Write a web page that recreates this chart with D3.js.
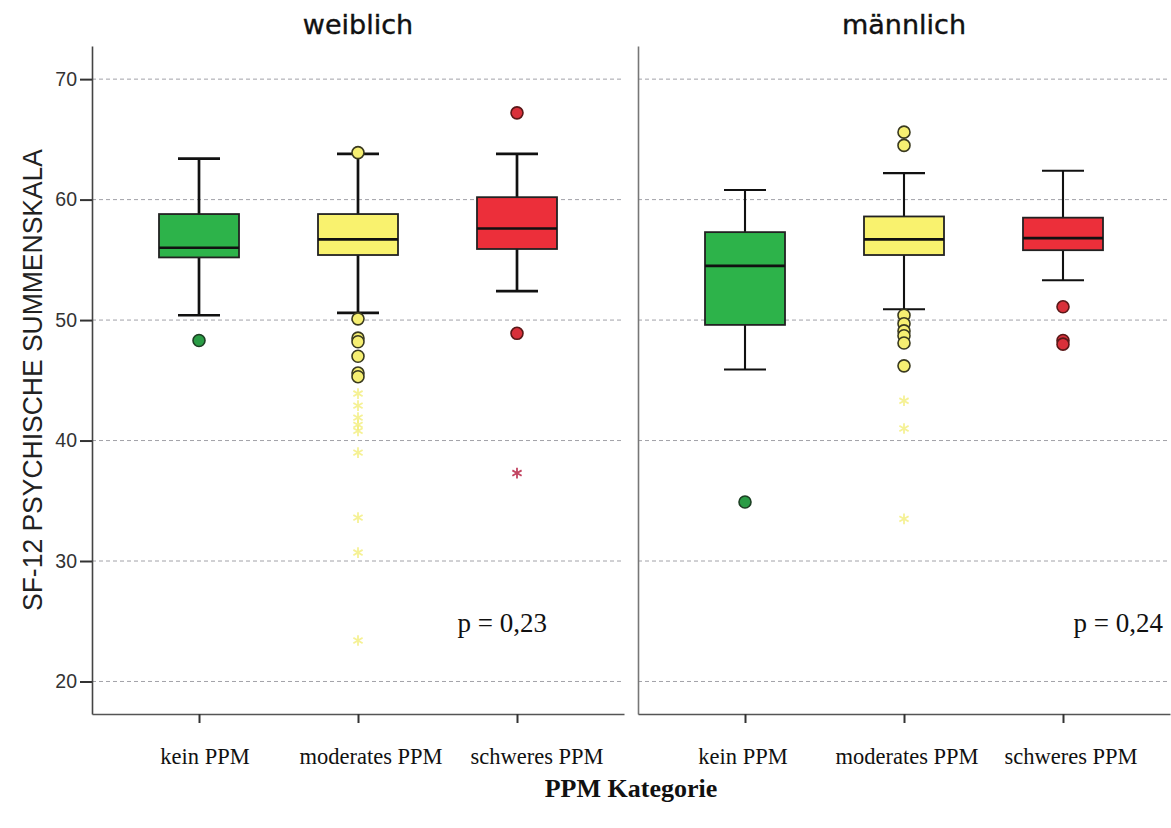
<!DOCTYPE html>
<html>
<head>
<meta charset="utf-8">
<script src="https://cdn.jsdelivr.net/npm/d3@7"></script>
<style>
  html, body { margin: 0; padding: 0; background: #fff; }
  svg { display: block; }
</style>
</head>
<body>
<svg id="chart" width="1171" height="828"></svg>
<script>
// ---------------- data ----------------
const panels = ["weiblich", "männlich"];
const categories = ["kein PPM", "moderates PPM", "schweres PPM"];
const yTicks = [20, 30, 40, 50, 60, 70];
// each row: [lower whisker, Q1, median, Q3, upper whisker]
const weiblichStats = [
  [50.4, 55.2, 56.0, 58.8, 63.4],
  [50.6, 55.4, 56.7, 58.8, 63.8],
  [52.4, 55.9, 57.6, 60.2, 63.8]
];
const maennlichStats = [
  [45.9, 49.6, 54.5, 57.3, 60.8],
  [50.9, 55.4, 56.7, 58.6, 62.2],
  [53.3, 55.8, 56.8, 58.5, 62.4]
];
// circles (outliers)
const weiblichOutliers = [
  [48.3],
  [63.9, 50.1, 48.5, 48.2, 47.0, 45.6, 45.3],
  [67.2, 48.9]
];
const maennlichOutliers = [
  [34.9],
  [65.6, 64.5, 50.4, 49.7, 49.1, 48.7, 48.1, 46.2],
  [51.1, 48.3, 48.0]
];
// stars (extreme values)
const weiblichExtremes = [
  [],
  [43.9, 42.9, 41.9, 41.3, 40.8, 39.0, 33.6, 30.7, 23.4],
  [37.3]
];
const maennlichExtremes = [
  [],
  [43.3, 41.0, 33.5],
  []
];
const pValues = ["p = 0,23", "p = 0,24"];
const yLabel = "SF-12 PSYCHISCHE SUMMENSKALA";
const xLabel = "PPM Kategorie";

// ---------------- styles ----------------
const boxFill = ["#2db34a", "#f9f26e", "#ec2f3a"];
const outFill = ["#2a9c45", "#f6ef72", "#d9303a"];
const outStroke = ["#1d3f24", "#3a3a20", "#5a1818"];
const starColor = ["#2db34a", "#f2ee7a", "#c24562"];
const starOpacity = [1, 0.8, 1];

const svg = d3.select("#chart");
const panelX = [[92, 624], [638, 1170]];
const plotTop = 46, plotBottom = 714;

const y = d3.scaleLinear().domain([17.3, 72.75]).range([plotBottom, plotTop]);

const stats = [weiblichStats, maennlichStats];
const outliers = [weiblichOutliers, maennlichOutliers];
const extremes = [weiblichExtremes, maennlichExtremes];
const labelShift = [[6, 13, 20], [-2, 3, 8]];
const whiskerW = [2.7, 2.1];
const axisColor = ["#444", "#777"];
const boxW = 80, capW = 42;

panels.forEach((pname, pi) => {
  const [x0, x1] = panelX[pi];
  const x = d3.scalePoint().domain(categories).range([x0, x1]).padding(0.673);
  const g = svg.append("g");

  // grid lines
  g.selectAll("line.grid").data(yTicks).enter().append("line")
    .attr("x1", x0).attr("x2", x1)
    .attr("y1", d => y(d)).attr("y2", d => y(d))
    .attr("stroke", "#a2a2a8").attr("stroke-width", 1)
    .attr("stroke-dasharray", "4,3");

  // y axis
  const yAxis = d3.axisLeft(y).tickValues(yTicks)
    .tickSizeInner(pi === 0 ? 12 : 0).tickSizeOuter(0).tickPadding(3)
    .tickFormat(d => pi === 0 ? d : "");
  const ya = g.append("g").attr("transform", `translate(${x0},0)`).call(yAxis);
  ya.select(".domain").attr("stroke", axisColor[pi]).attr("stroke-width", 1.6);
  ya.selectAll(".tick line").attr("stroke", "#333").attr("stroke-width", 2);
  ya.selectAll(".tick text").attr("font-family", "Liberation Sans, Arial, sans-serif")
    .attr("font-size", 19.5).attr("fill", "#333");

  // x axis
  const xAxis = d3.axisBottom(x).tickSizeInner(9).tickSizeOuter(0).tickFormat("");
  const xa = g.append("g").attr("transform", `translate(0,${plotBottom})`).call(xAxis);
  xa.select(".domain").attr("stroke", "#555").attr("stroke-width", 1.6);
  xa.selectAll(".tick line").attr("stroke", "#333").attr("stroke-width", 2);

  // category labels
  g.selectAll("text.cat").data(categories).enter().append("text")
    .attr("x", (d, i) => x(d) + labelShift[pi][i])
    .attr("y", 764)
    .attr("text-anchor", "middle")
    .attr("font-family", "Liberation Serif, Times New Roman, serif")
    .attr("font-size", 22.5).attr("fill", "#111")
    .text(d => d);

  // panel title
  g.append("text").attr("x", (x0 + x1) / 2).attr("y", 34)
    .attr("text-anchor", "middle")
    .attr("font-family", "DejaVu Sans, sans-serif")
    .attr("font-size", 27).attr("fill", "#111")
    .attr("stroke", "#111").attr("stroke-width", 0.4)
    .text(pname);

  // boxes
  categories.forEach((c, ci) => {
    const s = stats[pi][ci];
    const cx = x(c);
    const bg = g.append("g");
    // whiskers
    bg.append("line").attr("x1", cx).attr("x2", cx)
      .attr("y1", y(s[3])).attr("y2", y(s[4]))
      .attr("stroke", "#111").attr("stroke-width", whiskerW[pi]);
    bg.append("line").attr("x1", cx).attr("x2", cx)
      .attr("y1", y(s[1])).attr("y2", y(s[0]))
      .attr("stroke", "#111").attr("stroke-width", whiskerW[pi]);
    [s[0], s[4]].forEach(v => {
      bg.append("line").attr("x1", cx - capW / 2).attr("x2", cx + capW / 2)
        .attr("y1", y(v)).attr("y2", y(v))
        .attr("stroke", "#111").attr("stroke-width", whiskerW[pi]);
    });
    // box
    bg.append("rect").attr("x", cx - boxW / 2).attr("width", boxW)
      .attr("y", y(s[3])).attr("height", y(s[1]) - y(s[3]))
      .attr("fill", boxFill[ci]).attr("stroke", "#222").attr("stroke-width", 1.8);
    // median
    bg.append("line").attr("x1", cx - boxW / 2).attr("x2", cx + boxW / 2)
      .attr("y1", y(s[2])).attr("y2", y(s[2]))
      .attr("stroke", "#111").attr("stroke-width", 2.6);

    // extremes (stars)
    const star = d3.symbol().type(d3.symbolAsterisk).size(80);
    bg.selectAll("path.star").data(extremes[pi][ci]).enter().append("path")
      .attr("d", star)
      .attr("transform", d => `translate(${cx},${y(d)})`)
      .attr("fill", "none")
      .attr("stroke", starColor[ci]).attr("stroke-width", 1.8)
      .attr("opacity", starOpacity[ci]);

    // outliers (circles)
    bg.selectAll("circle.out").data(outliers[pi][ci]).enter().append("circle")
      .attr("cx", cx).attr("cy", d => y(d)).attr("r", 6)
      .attr("fill", outFill[ci]).attr("stroke", outStroke[ci]).attr("stroke-width", 1.6);
  });

  // p value
  g.append("text")
    .attr("x", pi === 0 ? 547 : 1163).attr("y", 632)
    .attr("text-anchor", "end")
    .attr("font-family", "Liberation Serif, Times New Roman, serif")
    .attr("font-size", 27).attr("fill", "#111")
    .text(pValues[pi]);
});

// y label
svg.append("text")
  .attr("transform", `translate(42,380) rotate(-90)`)
  .attr("text-anchor", "middle")
  .attr("font-family", "Liberation Sans, Arial, sans-serif")
  .attr("font-size", 27).attr("fill", "#222")
  .attr("textLength", 462).attr("lengthAdjust", "spacingAndGlyphs")
  .text(yLabel);

// x label
svg.append("text")
  .attr("x", 631).attr("y", 797)
  .attr("text-anchor", "middle")
  .attr("font-family", "Liberation Serif, Times New Roman, serif")
  .attr("font-weight", "bold")
  .attr("font-size", 26).attr("fill", "#111")
  .text(xLabel);
</script>
</body>
</html>
